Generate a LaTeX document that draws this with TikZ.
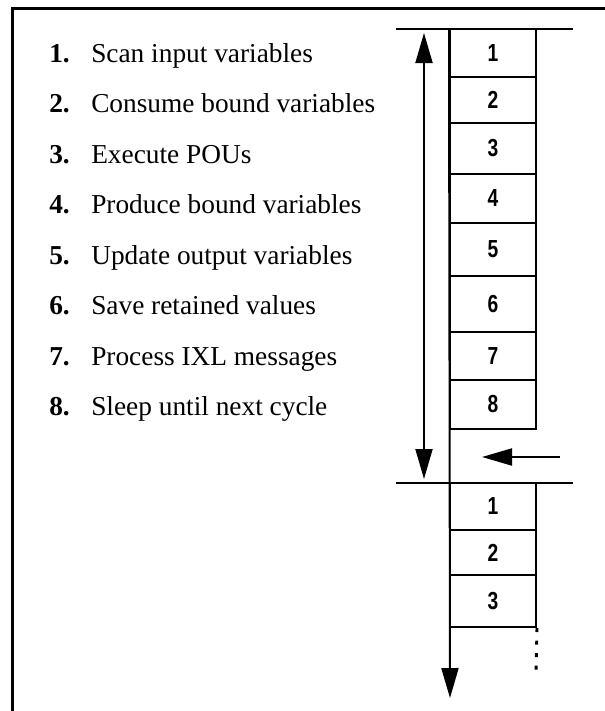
\documentclass[tikz,border=0pt]{standalone}
\usepackage{fontspec}
\setmainfont{Liberation Serif}
\newfontfamily\numfont{Liberation Sans Bold}
\newcommand\boxnum[1]{{\numfont\fontsize{18.5}{20}\selectfont\scalebox{0.78}[1]{#1}}}
\usetikzlibrary{arrows.meta}
\begin{document}
\begin{tikzpicture}[x=0.75pt,y=-0.75pt,
  frameline/.style={line width=2.25pt},
  headrule/.style={line width=1.9pt},
  shaft/.style={line width=1.5pt},
  headtip/.style={-{Triangle[length=22.5pt,width=12.75pt]}},
  stepbox/.style={draw,line width=1.5pt,minimum width=64.5pt,inner sep=0pt},
  numlabel/.style={anchor=base west,inner sep=0pt,font=\bfseries\fontsize{20.5}{24}\selectfont},
  itemlabel/.style={anchor=base west,inner sep=0pt,font=\fontsize{20.5}{24}\selectfont}]
\useasboundingbox (0,0) rectangle (604,711);
% frame
\draw[frameline] (12,720) -- (12,8) -- (610,8);
% list
\foreach \i/\t [count=\k from 0] in {1/Scan input variables,2/Consume bound variables,3/Execute POUs,4/Produce bound variables,5/Update output variables,6/Save retained values,7/Process IXL messages,8/Sleep until next cycle}{
  \node[numlabel] (n\i) at (49,62+50.5*\k) {\i.};
  \node[itemlabel] (t\i) at (91,62+50.5*\k) {\t};
}
% boxes
\node[stepbox,minimum height=36pt]   (b1) at (493,53)    {\boxnum{1}};
\node[stepbox,minimum height=34.5pt] (b2) at (493,100)   {\boxnum{2}};
\node[stepbox,minimum height=38.25pt](b3) at (493,148.5) {\boxnum{3}};
\node[stepbox,minimum height=36.75pt](b4) at (493,198.5) {\boxnum{4}};
\node[stepbox,minimum height=39.75pt](b5) at (493,249.5) {\boxnum{5}};
\node[stepbox,minimum height=42pt]   (b6) at (493,304)   {\boxnum{6}};
\node[stepbox,minimum height=36pt]   (b7) at (493,356)   {\boxnum{7}};
\node[stepbox,minimum height=36.75pt](b8) at (493,404.5) {\boxnum{8}};
\node[stepbox,minimum height=35.25pt](c1) at (493,506.5) {\boxnum{1}};
\node[stepbox,minimum height=33.75pt](c2) at (493,552.5) {\boxnum{2}};
\node[stepbox,minimum height=39pt]   (c3) at (493,601)   {\boxnum{3}};
% header rules
\coordinate (h1l) at (396,29);  \coordinate (h1r) at (573,29);
\coordinate (h2l) at (396,483); \coordinate (h2r) at (573,483);
\draw[headrule] (h1l) -- (h1r);
\draw[headrule] (h2l) -- (h2r);
% cycle double arrow
\coordinate (cyctop) at (424,33);
\coordinate (cycbot) at (424,479);
\draw[shaft,{Triangle[length=22.5pt,width=12.75pt]}-{Triangle[length=22.5pt,width=12.75pt]}] (cyctop) -- (cycbot);
% time axis
\coordinate (axisend) at (450,698);
\draw[shaft,headtip] (b1.north west) -- (axisend);
% incoming arrow
\coordinate (instart) at (560,457);
\coordinate (inend) at (482,457);
\draw[shaft,headtip] (instart) -- (inend);
% continuation
\coordinate (dotend) at (536,676);
\draw[line width=2.2pt,dash pattern=on 3pt off 6.4pt] (c3.south east) -- (dotend);
\end{tikzpicture}
\end{document}
